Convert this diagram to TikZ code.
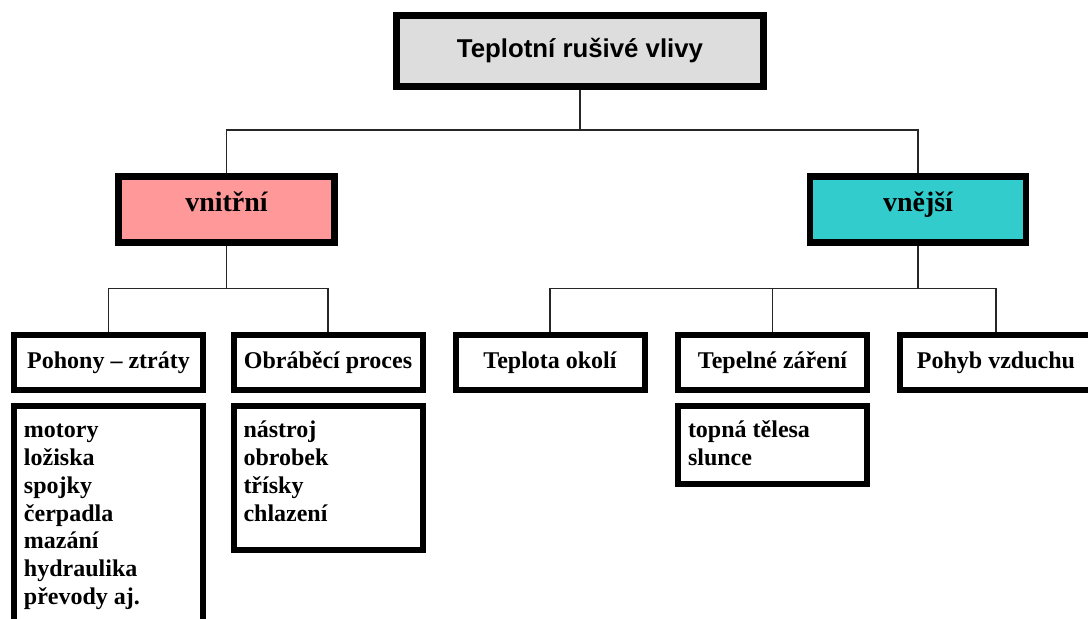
\documentclass[tikz,border=0pt]{standalone}
\usepackage{fontspec}
\setmainfont{Liberation Serif}
\setsansfont{Liberation Sans}
\usepackage{tikz}
\usetikzlibrary{positioning}
\definecolor{rootgray}{HTML}{DDDDDD}
\definecolor{inpink}{HTML}{FF9999}
\definecolor{outteal}{HTML}{33CCCC}

\begin{document}
\begin{tikzpicture}[
    x=0.5pt, y=-0.5pt,
    node distance=5pt,
    root/.style={draw, line width=3.5pt, fill=rootgray, minimum width=183.5pt, minimum height=35.5pt, font=\sffamily\bfseries\fontsize{12.9}{15}\selectfont},
    group/.style={draw, line width=3.2pt, minimum width=108pt, minimum height=33pt, text height=10pt, text depth=7.5pt, font=\bfseries\fontsize{14}{16}\selectfont},
    head/.style={draw, line width=3pt, fill=white, minimum width=94.5pt, minimum height=27.5pt, font=\bfseries\fontsize{12}{14}\selectfont},
    list/.style={draw, line width=3pt, fill=white, align=flush left, text width=84.5pt, inner xsep=5pt, inner ysep=3pt, text height=13pt, font=\bfseries\fontsize{12}{13.85}\selectfont},
    conn/.style={line width=0.6pt, black!85}
]
\useasboundingbox (0,0) rectangle (1088,619);
\clip (0,0) rectangle (1088,619);

% top level
\node[root] (root) at (580,51) {Teplotní rušivé vlivy};
\node[group, fill=inpink]  (vnitrni) at (226.5,209.5) {vnitřní};
\node[group, fill=outteal] (vnejsi)  at (918,209.5)   {vnější};

% sources
\node[head] (pohony)   at (108.5,362.5) {Pohony -- ztráty};
\node[head] (obrabeni) at (328,362.5)   {Obráběcí proces};
\node[head] (okoli)    at (550,362.5)   {Teplota okolí};
\node[head] (zareni)   at (772.5,362.5) {Tepelné záření};
\node[head, minimum width=96pt] (vzduch) at (996,362.5) {Pohyb vzduchu};

% lists
\node[list, below=of pohony, text depth=100pt] (pohonylist) {motory\\ ložiska\\ spojky\\ čerpadla\\ mazání\\ hydraulika\\ převody aj.};
\node[list, below=of obrabeni, text depth=53pt] (obrabenilist) {nástroj\\ obrobek\\ třísky\\ chlazení};
\node[list, below=of zareni, text depth=20pt] (zarenilist) {topná tělesa\\ slunce};

% connectors
\path (root.south) ++(0,40) coordinate (rootfork);
\draw[conn] (root.south) -- (rootfork) -| (vnitrni.north);
\draw[conn] (rootfork) -| (vnejsi.north);

\path (vnitrni.south) ++(0,43) coordinate (infork);
\draw[conn] (vnitrni.south) -- (infork) -| (pohony.north);
\draw[conn] (infork) -| (obrabeni.north);

\path (vnejsi.south) ++(0,43) coordinate (outfork);
\draw[conn] (vnejsi.south) -- (outfork) -| (okoli.north);
\draw[conn] (outfork) -| (zareni.north);
\draw[conn] (outfork) -| (vzduch.north);
\end{tikzpicture}
\end{document}
